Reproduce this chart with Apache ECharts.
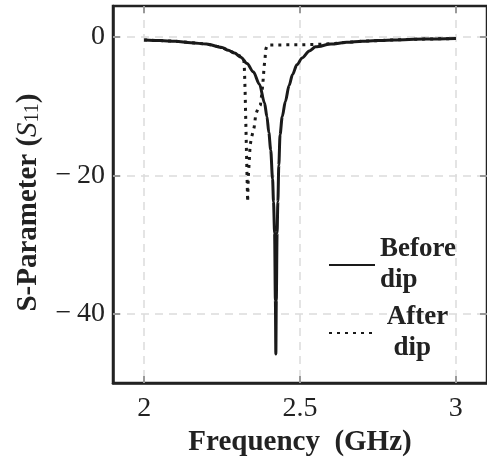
<!DOCTYPE html>
<html><head><meta charset="utf-8">
<script src="https://cdn.jsdelivr.net/npm/echarts@6/dist/echarts.min.js"></script>
<style>html,body{margin:0;padding:0;background:#fff}#c{width:487px;height:462px}</style>
</head><body><div id="c"></div>
<script>
// Frequency (GHz) and S11 (dB)
const beforeFreq = [2.00,2.05,2.10,2.15,2.20,2.25,2.27,2.29,2.31,2.33,2.35,2.37,2.386,2.394,2.400,2.406,2.412,2.415,2.4185,2.421,2.4225,2.424,2.4265,2.429,2.432,2.436,2.443,2.453,2.465,2.476,2.490,2.507,2.530,2.550,2.600,2.650,2.700,2.800,2.900,3.000];
const beforeS11  = [-0.4,-0.5,-0.6,-0.8,-1.0,-1.5,-1.9,-2.3,-2.9,-3.8,-5.0,-6.8,-9.5,-11.5,-13.8,-16.3,-20.5,-23.8,-28.3,-38,-45.8,-38,-28.3,-23.8,-18.5,-14.1,-11.5,-9.3,-7.0,-5.4,-4.0,-3.0,-2.0,-1.4,-1.0,-0.75,-0.6,-0.4,-0.28,-0.2];
const afterFreq = [2.00,2.05,2.10,2.15,2.20,2.25,2.27,2.29,2.31,2.320,2.322,2.324,2.326,2.328,2.330,2.332,2.334,2.337,2.340,2.345,2.353,2.358,2.366,2.373,2.378,2.381,2.385,2.388,2.390,2.394,2.404,2.450,2.500,2.550,2.600,2.650,2.700,2.800,2.900,3.000];
const afterS11  = [-0.4,-0.5,-0.6,-0.8,-1.0,-1.5,-1.9,-2.3,-2.8,-3.2,-5,-8,-12,-16,-20,-23.8,-20.3,-18,-15.6,-14.4,-13.0,-11.2,-10.2,-9.8,-8.0,-6.6,-4.2,-3.0,-1.8,-1.2,-1.15,-1.12,-1.1,-1.05,-0.95,-0.75,-0.6,-0.4,-0.28,-0.2];
const xTicks = [2, 2.5, 3];
const yTicks = [0, -20, -40];
const seriesNames = ['Before dip', 'After dip'];

const serif = 'Liberation Serif';
const zip = (a, b) => a.map((v, i) => [v, b[i]]);
const gridDash = {show: true, lineStyle: {color: '#dcdcdc', width: 1.5, type: [8, 6]}};
const chart = echarts.init(document.getElementById('c'), null, {renderer: 'canvas'});
chart.setOption({
  animation: false,
  backgroundColor: '#fff',
  grid: {left: 113, right: -6, top: 6, bottom: 77, show: true, borderColor: '#222', borderWidth: 2.5, containLabel: false},
  legend: {
    orient: 'vertical', left: 323, top: 229, itemWidth: 46, itemHeight: 14, itemGap: 6,
    data: seriesNames,
    itemStyle: {opacity: 0},
    formatter: n => n === 'Before dip' ? 'Before\ndip' : ' After\n  dip',
    textStyle: {fontFamily: serif, fontWeight: 'bold', fontSize: 27, color: '#222', lineHeight: 31}
  },
  xAxis: [{
    type: 'value', min: 1.9, max: 3.1,
    name: 'Frequency  (GHz)', nameLocation: 'middle', nameGap: 40,
    nameTextStyle: {fontFamily: serif, fontWeight: 'bold', fontSize: 29, color: '#222'},
    axisLine: {show: true, onZero: false, lineStyle: {color: '#222', width: 2.5}},
    axisTick: {show: true, inside: true, length: 7, customValues: xTicks, lineStyle: {color: '#999', width: 2}},
    axisLabel: {customValues: xTicks, fontFamily: serif, fontSize: 28, color: '#222', margin: 12, formatter: v => String(v)},
    splitLine: gridDash
  }, {
    type: 'value', min: 1.9, max: 3.1, position: 'top',
    axisLine: {show: false, onZero: false},
    axisTick: {show: true, inside: true, length: 7, customValues: xTicks, lineStyle: {color: '#999', width: 2}},
    axisLabel: {show: false}, splitLine: {show: false}
  }],
  yAxis: [{
    type: 'value', min: -50, max: 4.5,
    name: 'S-Parameter ({it|S}{sub|11})', nameLocation: 'middle', nameGap: 70,
    nameTextStyle: {fontFamily: serif, fontWeight: 'bold', fontSize: 29, color: '#222', padding: [0, 16, 0, 0],
      rich: {it: {fontFamily: serif, fontStyle: 'italic', fontWeight: 'normal', fontSize: 29, color: '#222'},
             sub: {fontFamily: serif, fontWeight: 'normal', fontSize: 20, color: '#222', verticalAlign: 'bottom', padding: [8, 0, 0, 0]}}},
    axisLine: {show: true, onZero: false, lineStyle: {color: '#222', width: 2.5}},
    axisTick: {show: true, inside: true, length: 7, customValues: yTicks, lineStyle: {color: '#999', width: 2}},
    axisLabel: {customValues: yTicks, fontFamily: serif, fontSize: 28, color: '#222', margin: 8,
      formatter: v => v < 0 ? '\u2212\u2009' + Math.abs(v) : String(v)},
    splitLine: gridDash
  }, {
    type: 'value', min: -50, max: 4.5, position: 'right',
    axisLine: {show: false, onZero: false},
    axisTick: {show: true, inside: true, length: 7, customValues: yTicks, lineStyle: {color: '#999', width: 2}},
    axisLabel: {show: false}, splitLine: {show: false}
  }],
  series: [{
    name: seriesNames[0], type: 'line', data: zip(beforeFreq, beforeS11), symbol: 'none',
    smooth: 0.3, smoothMonotone: 'x',
    lineStyle: {color: '#1a1a1a', width: 3}, itemStyle: {color: '#1a1a1a'}, z: 3
  }, {
    name: seriesNames[1], type: 'line', data: zip(afterFreq, afterS11), symbol: 'none',
    lineStyle: {color: '#1a1a1a', width: 3, type: [3, 5]}, itemStyle: {color: '#1a1a1a'}, z: 4
  }]
});
</script></body></html>
